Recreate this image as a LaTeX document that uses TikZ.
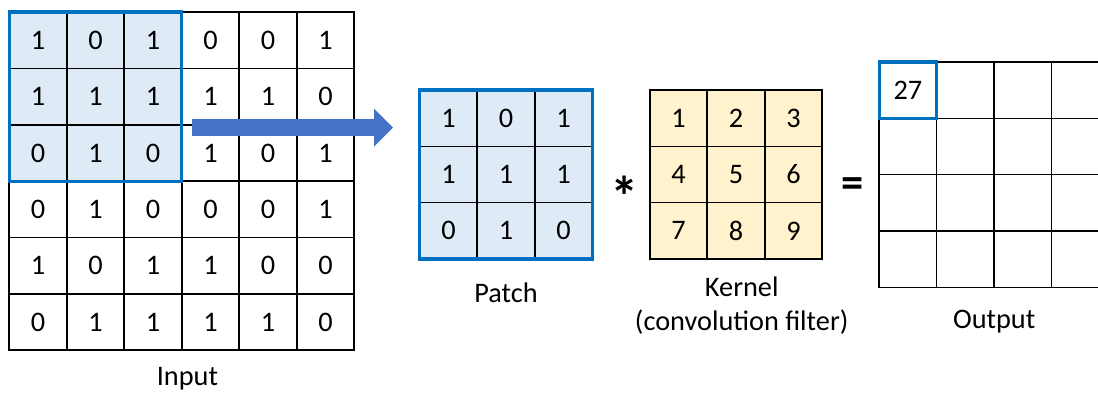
\documentclass[tikz,border=0pt]{standalone}
\usepackage{fontspec}
\setmainfont{Carlito}
\usetikzlibrary{arrows.meta,positioning,calc}
\definecolor{patchblue}{HTML}{0070C0}
\definecolor{patchfill}{HTML}{DEEBF7}
\definecolor{kernfill}{HTML}{FFF2CC}
\definecolor{arrowblue}{HTML}{4472C4}

\begin{document}
\begin{tikzpicture}[
  cell/.style={draw, line width=0.8pt, minimum width=1cm, minimum height=0.98cm, inner sep=0pt, outer sep=0pt, anchor=north west, font=\fontsize{14}{18}\selectfont},
  lbl/.style={font=\fontsize{14}{17}\selectfont, align=center},
  op/.style={font=\bfseries, anchor=base},
  hilite/.style={draw=patchblue, line width=1.6pt},
  bigarrow/.style={arrowblue, line width=0.3cm, -{Triangle[length=0.33cm, width=0.64cm]}}
]
\useasboundingbox (0,0) rectangle (19.096,-6.87);
\clip (0,0) rectangle (19.096,-6.87);

% input image
\fill[patchfill] (0.16,-0.21) rectangle (3.16,-3.15);
\foreach \row [count=\r] in {{1,0,1,0,0,1},{1,1,1,1,1,0},{0,1,0,1,0,1},{0,1,0,0,0,1},{1,0,1,1,0,0},{0,1,1,1,1,0}}
  \foreach \v [count=\c] in \row
    \node[cell] (in-\r-\c) at ({0.16+\c-1},{-0.21-0.98*(\r-1)}) {\v};
\draw[hilite] (in-1-1.north west) rectangle (in-3-3.south east);
\node[lbl, inner sep=1pt, below=0.26cm of in-6-3.south east, xshift=0.1cm] (inlabel) {Input};

% patch
\foreach \row [count=\r] in {{1,0,1},{1,1,1},{0,1,0}}
  \foreach \v [count=\c] in \row
    \node[cell, fill=patchfill] (pa-\r-\c) at ({7.30+\c-1},{-1.565-0.98*(\r-1)}) {\v};
\draw[hilite] (pa-1-1.north west) rectangle (pa-3-3.south east);
\node[lbl, below=0.29cm of pa-3-2.south] (palabel) {Patch};

% patch -> arrow
\coordinate (arrS) at ($(in-3-3.north east)+(0.18,-0.05)$);
\draw[bigarrow, shorten >=0.465cm] (arrS) -- (arrS -| pa-1-1.west);

% kernel
\foreach \row [count=\r] in {{1,2,3},{4,5,6},{7,8,9}}
  \foreach \v [count=\c] in \row
    \node[cell, fill=kernfill] (ke-\r-\c) at ({11.30+\c-1},{-1.565-0.98*(\r-1)}) {\v};
\node[lbl, below=0.18cm of ke-3-2.south, xshift=0.1cm] (kelabel) {Kernel\\(convolution filter)};

\node[op, font=\fontsize{28}{30}\selectfont\bfseries] (times) at (10.87,-3.76) {*};
\node[op, font=\fontsize{22}{24}\selectfont\bfseries] (equals) at (14.82,-3.435) {=};

% output
\foreach \r in {1,...,4}
  \foreach \c in {1,...,4}
    \node[cell] (out-\r-\c) at ({15.29+\c-1},{-1.078-0.98*(\r-1)}) {};
\node[cell, draw=patchblue, line width=1.6pt] (res) at (15.29,-1.078) {27};
\node[lbl, below=0.27cm of out-4-2.south east] (outlabel) {Output};
\end{tikzpicture}
\end{document}
